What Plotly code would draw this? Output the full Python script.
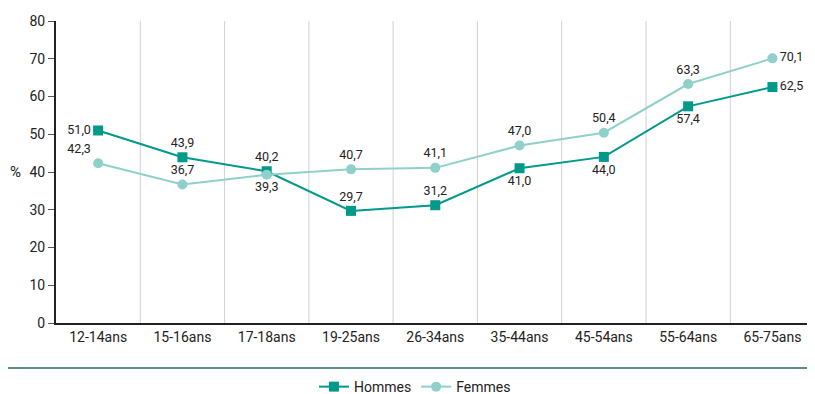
import plotly.graph_objects as go

categories = ["12-14ans", "15-16ans", "17-18ans", "19-25ans", "26-34ans",
              "35-44ans", "45-54ans", "55-64ans", "65-75ans"]
hommes = [51.0, 43.9, 40.2, 29.7, 31.2, 41.0, 44.0, 57.4, 62.5]
femmes = [42.3, 36.7, 39.3, 40.7, 41.1, 47.0, 50.4, 63.3, 70.1]
hommes_pos = ["middle left", "top center", "top center", "top center", "top center",
              "bottom center", "bottom center", "bottom center", "middle right"]
femmes_pos = ["top left", "top center", "bottom center", "top center", "top center",
              "top center", "top center", "top center", "middle right"]
y_ticks = [0, 10, 20, 30, 40, 50, 60, 70, 80]

FONT = "Roboto, sans-serif"
C_H = "#00998a"
C_F = "#8fd1ca"

def fmt(v):
    return f"{v:.1f}".replace(".", ",")

fig = go.Figure()
fig.add_trace(go.Scatter(
    x=list(range(len(categories))), y=hommes, name="Hommes",
    mode="lines+markers+text", text=[fmt(v) for v in hommes],
    textposition=hommes_pos, textfont=dict(size=12.5, color="#222"),
    line=dict(color=C_H, width=2), marker=dict(symbol="square", size=10, color=C_H),
    cliponaxis=False))
fig.add_trace(go.Scatter(
    x=list(range(len(categories))), y=femmes, name="Femmes",
    mode="lines+markers+text", text=[fmt(v) for v in femmes],
    textposition=femmes_pos, textfont=dict(size=12.5, color="#222"),
    line=dict(color=C_F, width=2), marker=dict(symbol="circle", size=10, color=C_F),
    cliponaxis=False))

for i in range(1, len(categories)):
    fig.add_shape(type="line", xref="x", yref="paper", x0=i - 0.5, x1=i - 0.5,
                  y0=0, y1=1, line=dict(color="#d0d0d0", width=1), layer="below")

fig.add_shape(type="line", xref="paper", yref="paper", x0=-0.1, x1=1.05,
              y0=-0.149, y1=-0.149, line=dict(color="#5f8f86", width=2))

fig.add_annotation(text="%", xref="paper", yref="y", x=-0.062, xanchor="left",
                   y=40, showarrow=False,
                   font=dict(size=15, color="#222", family=FONT))

fig.update_layout(
    width=815, height=394,
    margin=dict(l=48, r=0, t=13, b=79, autoexpand=False),
    paper_bgcolor="white", plot_bgcolor="white",
    font=dict(family=FONT, size=14, color="#222"),
    showlegend=True,
    legend=dict(orientation="h", x=0.468, xanchor="center", yref="container",
                y=0.038, yanchor="middle", font=dict(size=14, color="#222")),
    xaxis=dict(range=[-0.5, 8.6], tickvals=list(range(len(categories))),
               ticktext=categories, showgrid=False, zeroline=False,
               showline=True, linecolor="#222", linewidth=2, ticks="",
               tickfont=dict(size=14)),
    yaxis=dict(range=[0, 80], tickvals=y_ticks, showgrid=False, zeroline=False,
               showline=True, linecolor="#222", linewidth=2, ticks="outside",
               ticklen=6, tickcolor="#555", tickfont=dict(size=14)),
)

fig.write_html("out.html")
